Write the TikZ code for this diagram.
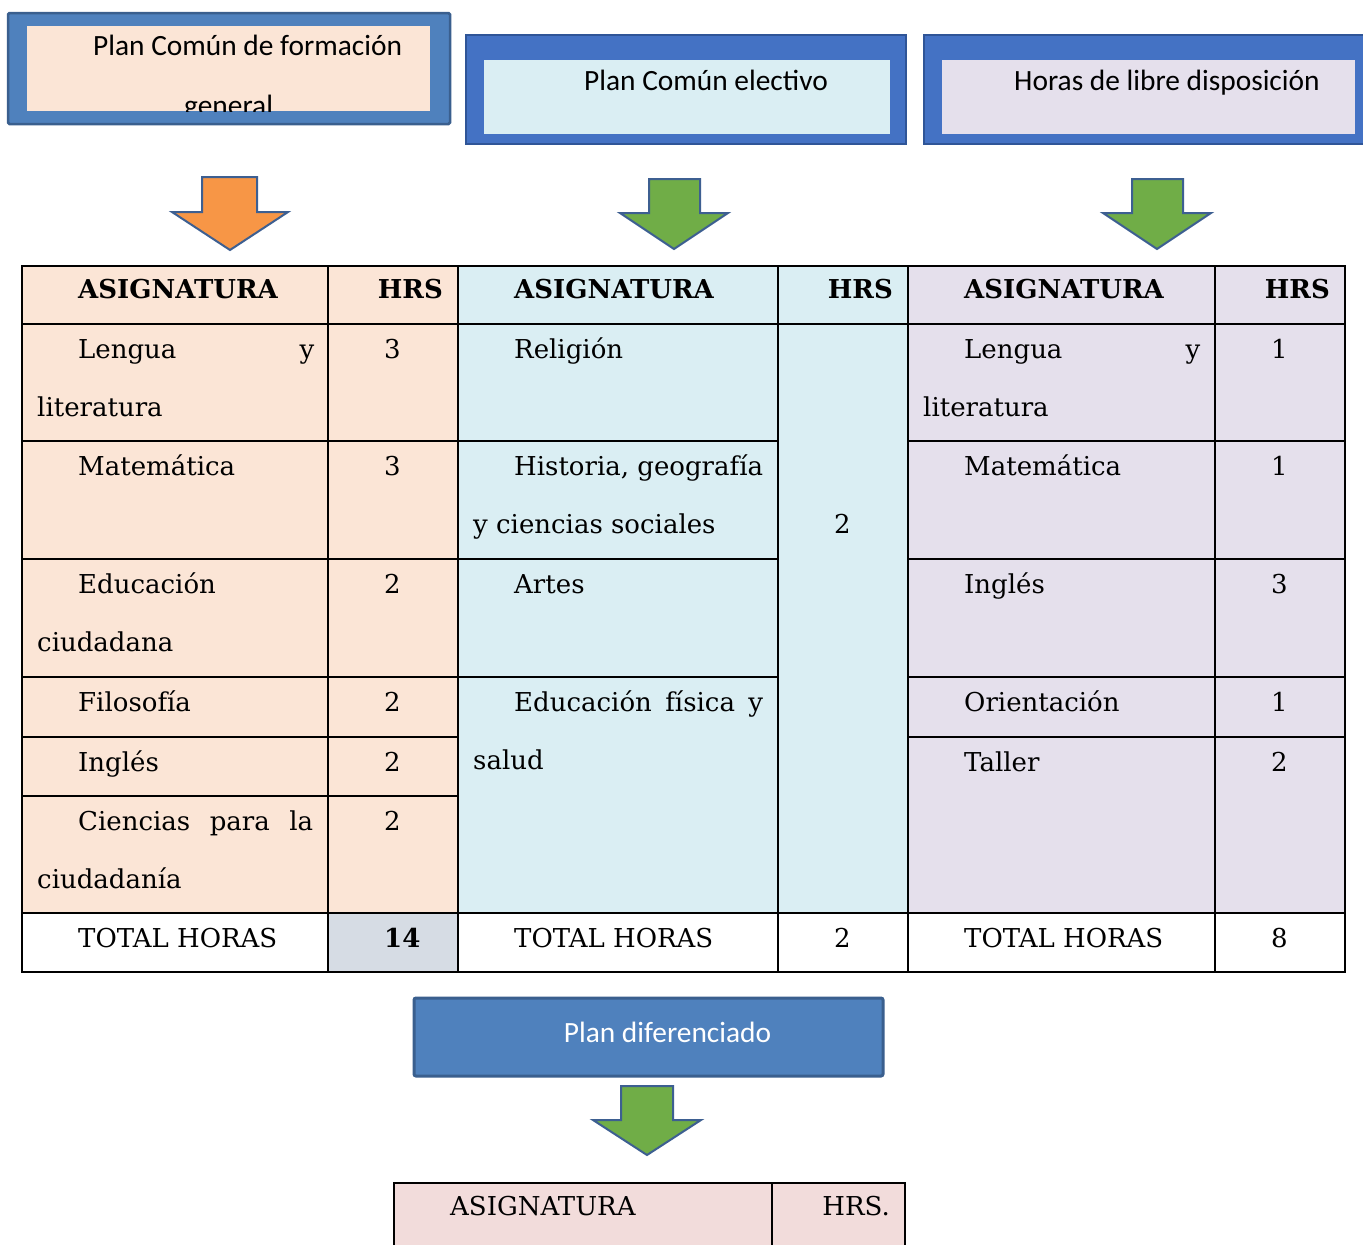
\documentclass[tikz,border=0pt]{standalone}
\usepackage{fontspec}
\newfontfamily\tabfont{DejaVu Serif}
\newfontfamily\boxfont{Carlito}
\definecolor{peach}{HTML}{FBE5D6}
\definecolor{lblue}{HTML}{DAEEF3}
\definecolor{lav}{HTML}{E5E0EC}
\definecolor{grayc}{HTML}{D6DCE4}
\definecolor{pinkc}{HTML}{F2DCDB}
\definecolor{boxA}{HTML}{4F81BD}
\definecolor{boxAedge}{HTML}{3A5F8E}
\definecolor{boxB}{HTML}{4472C4}
\definecolor{boxBedge}{HTML}{2F5597}
\definecolor{orangeA}{HTML}{F79646}
\definecolor{greenA}{HTML}{70AD47}
\definecolor{arrowedge}{HTML}{3D5F91}
\tikzset{
  tx/.style={anchor=base west, inner sep=0pt, font=\tabfont\fontsize{26}{31}\selectfont},
  txe/.style={anchor=base east, inner sep=0pt, font=\tabfont\fontsize{26}{31}\selectfont},
  tb/.style={anchor=base west, inner sep=0pt, font=\tabfont\bfseries\fontsize{26}{31}\selectfont},
  tbe/.style={anchor=base east, inner sep=0pt, font=\tabfont\bfseries\fontsize{26}{31}\selectfont},
  bx/.style={anchor=base west, inner sep=0pt, font=\boxfont\fontsize{29.4}{35}\selectfont},
  gridline/.style={line width=2.2pt, black, line cap=rect},
  blockarrow/.style={draw=arrowedge, line width=2pt, line join=miter},
}
\begin{document}
\begin{tikzpicture}[x=1pt,y=-1pt]
\useasboundingbox[fill=white] (0,0) rectangle (1363,1245);

% ---------- top boxes ----------
\filldraw[fill=boxA, draw=boxAedge, line width=2.5pt, rounded corners=1.5pt] (8,13) rectangle (450,124);
\fill[peach] (27,26) rectangle (430,111);
\begin{scope}
  \clip (27,26) rectangle (430,111);
  \node[bx] (t1a) at (93,55) {Plan Común de formación};
  \node[bx] (t1b) at (184,115) {general};
\end{scope}

\filldraw[fill=boxB, draw=boxBedge, line width=1.5pt] (466,35) rectangle (906,144);
\fill[lblue] (484,60) rectangle (890,134);
\node[bx] (t2) at (584,90) {Plan Común electivo};

\filldraw[fill=boxB, draw=boxBedge, line width=1.5pt] (924,35) rectangle (1372,144);
\fill[lav] (942,60) rectangle (1355,134);
\node[bx] (t3) at (1014,90) {Horas de libre disposición};

% ---------- block arrows ----------
\filldraw[blockarrow, fill=orangeA] (202,177) -- (257,177) -- (257,212) -- (288,212) -- (230,250) -- (172,212) -- (202,212) -- cycle;
\filldraw[blockarrow, fill=greenA] (649,179) -- (700,179) -- (700,213) -- (728,213) -- (674,249) -- (620,213) -- (649,213) -- cycle;
\filldraw[blockarrow, fill=greenA] (1132,179) -- (1183,179) -- (1183,213) -- (1211,213) -- (1157,249) -- (1103,213) -- (1132,213) -- cycle;
\filldraw[blockarrow, fill=greenA] (621,1086) -- (673,1086) -- (673,1120) -- (701,1120) -- (647,1155) -- (593,1120) -- (621,1120) -- cycle;

% ---------- table fills ----------
\fill[peach] (22,266) rectangle (458,913);
\fill[grayc] (328,913) rectangle (458,972);
\fill[lblue] (458,266) rectangle (908,913);
\fill[lav] (908,266) rectangle (1345,913);

% ---------- grid ----------
\foreach \x in {22,328,458,778,908,1215,1345} \draw[gridline] (\x,266) -- (\x,972);
\foreach \y in {266,324,913,972} \draw[gridline] (22,\y) -- (1345,\y);
\foreach \y in {441,559,677,737,796} \draw[gridline] (22,\y) -- (458,\y);
\foreach \y in {441,559,677} \draw[gridline] (458,\y) -- (778,\y);
\foreach \y in {441,559,677,737} \draw[gridline] (908,\y) -- (1345,\y);

% ---------- left table text ----------
\node[tb]  (ah1) at (78,298) {ASIGNATURA};
\node[tbe] (ah2) at (443,298) {HRS};
\node[tx]  (a1)  at (78,358) {\makebox[236pt][l]{Lengua\hfill y}};
\node[tx]  (a1b) at (37,416) {literatura};
\node[tx]  (a1h) at (384,358) {3};
\node[tx]  (a2)  at (78,475) {Matemática};
\node[tx]  (a2h) at (384,475) {3};
\node[tx]  (a3)  at (78,593) {Educación};
\node[tx]  (a3b) at (37,651) {ciudadana};
\node[tx]  (a3h) at (384,593) {2};
\node[tx]  (a4)  at (78,711) {Filosofía};
\node[tx]  (a4h) at (384,711) {2};
\node[tx]  (a5)  at (78,771) {Inglés};
\node[tx]  (a5h) at (384,771) {2};
\node[tx]  (a6)  at (78,830) {\makebox[235pt][s]{Ciencias para la}};
\node[tx]  (a6b) at (37,888) {ciudadanía};
\node[tx]  (a6h) at (384,830) {2};
\node[tx]  (aT)  at (78,947) {TOTAL HORAS};
\node[tb]  (aTh) at (384,947) {14};

% ---------- middle table text ----------
\node[tb]  (bh1) at (514,298) {ASIGNATURA};
\node[tbe] (bh2) at (893,298) {HRS};
\node[tx]  (b1)  at (514,358) {Religión};
\node[tx]  (b2)  at (514,475) {Historia, geografía};
\node[tx]  (b2b) at (473,533) {y ciencias sociales};
\node[tx]  (b3)  at (514,593) {Artes};
\node[tx]  (b4)  at (514,711) {\makebox[249pt][s]{Educación física y}};
\node[tx]  (b4b) at (473,769) {salud};
\node[tx]  (bh)  at (834,533) {2};
\node[tx]  (bT)  at (514,947) {TOTAL HORAS};
\node[tx]  (bTh) at (834,947) {2};

% ---------- right table text ----------
\node[tb]  (ch1) at (964,298) {ASIGNATURA};
\node[tbe] (ch2) at (1330,298) {HRS};
\node[tx]  (c1)  at (964,358) {\makebox[236pt][l]{Lengua\hfill y}};
\node[tx]  (c1b) at (923,416) {literatura};
\node[tx]  (c1h) at (1271,358) {1};
\node[tx]  (c2)  at (964,475) {Matemática};
\node[tx]  (c2h) at (1271,475) {1};
\node[tx]  (c3)  at (964,593) {Inglés};
\node[tx]  (c3h) at (1271,593) {3};
\node[tx]  (c4)  at (964,711) {Orientación};
\node[tx]  (c4h) at (1271,711) {1};
\node[tx]  (c5)  at (964,771) {Taller};
\node[tx]  (c5h) at (1271,771) {2};
\node[tx]  (cT)  at (964,947) {TOTAL HORAS};
\node[tx]  (cTh) at (1271,947) {8};

% ---------- plan diferenciado ----------
\filldraw[fill=boxA, draw=boxAedge, line width=3pt, rounded corners=2pt] (414,998) rectangle (883,1076);
\node[anchor=base, inner sep=0pt, font=\boxfont\fontsize{29.4}{35}\selectfont, text=white] (pd) at (667.5,1042) {Plan diferenciado};

% ---------- bottom table ----------
\fill[pinkc] (394,1183) rectangle (905,1260);
\draw[gridline] (394,1183) -- (905,1183);
\foreach \x in {394,772,905} \draw[gridline] (\x,1183) -- (\x,1260);
\node[tx]  (d1) at (450,1215) {ASIGNATURA};
\node[txe] (d2) at (890,1215) {HRS.};
\end{tikzpicture}
\end{document}
